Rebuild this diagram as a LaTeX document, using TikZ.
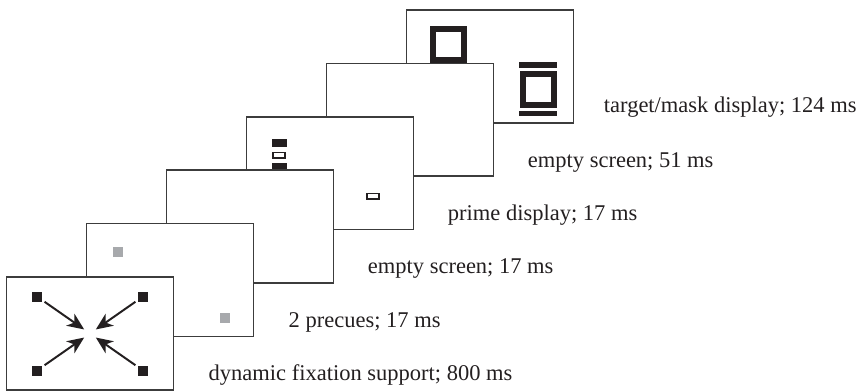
\documentclass[tikz,border=0pt]{standalone}
\usepackage{fontspec}
\setmainfont{Liberation Serif}
\usetikzlibrary{calc,arrows.meta}
\definecolor{scrline}{HTML}{3C3C3C}
\definecolor{inkblack}{HTML}{231F20}
\definecolor{cuegray}{HTML}{A7A9AC}

\begin{document}
\begin{tikzpicture}[
    screen/.style={draw=scrline, line width=1.2pt, fill=white, inner sep=0pt,
                   minimum width=4.18cm, minimum height=2.82cm},
    caption/.style={anchor=base west, inner sep=0pt, text=inkblack,
                    font=\fontsize{16}{19}\selectfont},
    dot/.style={fill=inkblack, inner sep=0pt, minimum size=0.25cm},
    precue/.style={dot, fill=cuegray},
    bar/.style={fill=inkblack, inner sep=0pt, minimum width=0.375cm, minimum height=0.2cm},
    slot/.style={draw=inkblack, line width=1.1pt, fill=white, inner sep=0pt,
                 minimum width=0.31cm, minimum height=0.14cm},
    frame/.style={draw=inkblack, line width=0.15cm, inner sep=0pt, minimum size=0.775cm},
    rail/.style={fill=inkblack, inner sep=0pt, minimum width=0.95cm, minimum height=0.14cm},
    arrow/.style={-{Stealth[length=4.2mm,width=3.6mm,inset=1.2mm]}, draw=inkblack,
                  line width=1.4pt, shorten <=2pt}
  ]
    \useasboundingbox (0,0) rectangle (21.475,9.775);

    % screens, back to front
    \node[screen] (tgt)    at (12.25, 8.115) {};
    \node[frame]  (target) at ($(tgt.center)+(-1.04,0.55)$) {};
    \node[frame]  (mask)   at ($(tgt.center)+(1.2,-0.58)$) {};
    \node[rail]   (railT)  at ($(mask.center)+(0,0.61)$) {};
    \node[rail]   (railB)  at ($(mask.center)+(0,-0.6)$) {};

    \node[screen] (blankB) at (10.25, 6.78) {};

    \node[screen] (prime)  at (8.25, 5.445) {};
    \node[bar]    (primeA) at ($(prime.center)+(-1.275,0.75)$) {};
    \node[slot]   (primeB) at ($(prime.center)+(-1.275,0.45)$) {};
    \node[bar]    (primeC) at ($(prime.center)+(-1.275,0.15)$) {};
    \node[slot]   (primeD) at ($(prime.center)+(1.075,-0.58)$) {};

    \node[screen] (blankA) at (6.25, 4.11) {};

    \node[screen] (cues)   at (4.25, 2.775) {};
    \node[precue] (cueL)   at ($(cues.center)+(-1.3,0.71)$) {};
    \node[precue] (cueR)   at ($(cues.center)+(1.375,-0.94)$) {};

    \node[screen] (fix)    at (2.25, 1.4375) {};
    \node[dot]    (fixTL)  at ($(fix.center)+(-1.325,0.925)$) {};
    \node[dot]    (fixTR)  at ($(fix.center)+(1.325,0.925)$) {};
    \node[dot]    (fixBL)  at ($(fix.center)+(-1.325,-0.925)$) {};
    \node[dot]    (fixBR)  at ($(fix.center)+(1.325,-0.925)$) {};

    \draw[arrow] (fixTL) -- ($(fix.center)!0.11!(fixTL)$);
    \draw[arrow] (fixTR) -- ($(fix.center)!0.11!(fixTR)$);
    \draw[arrow] (fixBL) -- ($(fix.center)!0.11!(fixBL)$);
    \draw[arrow] (fixBR) -- ($(fix.center)!0.11!(fixBR)$);

    % timing captions
    \node[caption] (capFix)    at ($(fix.south east)+(0.85,0.25)$)    {dynamic fixation support; 800 ms};
    \node[caption] (capCues)   at ($(cues.south east)+(0.85,0.25)$)   {2 precues; 17 ms};
    \node[caption] (capBlankA) at ($(blankA.south east)+(0.83,0.25)$) {empty screen; 17 ms};
    \node[caption] (capPrime)  at ($(prime.south east)+(0.83,0.25)$)  {prime display; 17 ms};
    \node[caption] (capBlankB) at ($(blankB.south east)+(0.83,0.25)$) {empty screen; 51 ms};
    \node[caption] (capTgt)    at ($(tgt.south east)+(0.73,0.27)$)    {target/mask display; 124 ms};
  \end{tikzpicture}
\end{document}
